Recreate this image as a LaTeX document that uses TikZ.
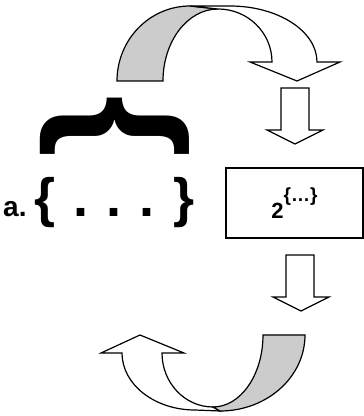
\documentclass[tikz,border=0pt]{standalone}
\usepackage{fontspec}
\setmainfont{Liberation Sans}
\definecolor{ribbongray}{HTML}{CCCCCC}
\begin{document}
\begin{tikzpicture}[x=1pt,y=1pt,
  outline/.style={draw=black, line width=1.2pt, line join=miter},
  ribbon/.style={outline, fill=ribbongray},
  paper/.style={outline, fill=white},
  boxed/.style={draw=black, line width=1.6pt, inner sep=0pt, minimum width=137pt, minimum height=70pt},
  bigtxt/.style={font=\bfseries\fontsize{54}{54}\selectfont, inner sep=0pt},
  smalltxt/.style={font=\bfseries\fontsize{28}{28}\selectfont, inner sep=0pt}]
\useasboundingbox (0,0) rectangle (364,416);

% top curved arrow
\path[ribbon] (117,335) -- (163,335)
  arc[start angle=180, end angle=90, x radius=55, y radius=72]
  -- (190,410)
  arc[start angle=90, end angle=180, x radius=73, y radius=75] -- cycle;
\path[paper] (218,407)
  arc[start angle=90, end angle=0, x radius=54, y radius=53]
  -- (250,354) -- (297,335) -- (340,354) -- (317,354)
  arc[start angle=0, end angle=90, x radius=87, y radius=56]
  -- (190,410) -- cycle;

% straight down arrows
\path[paper] (281,328) -- (309,328) -- (309,286) -- (323,286) -- (295,272) -- (267,286) -- (281,286) -- cycle;
\path[paper] (286,161) -- (314,161) -- (314,119) -- (329,119) -- (301,105) -- (273,119) -- (286,119) -- cycle;

% box
\node[boxed] (setbox) at (294.5,213) {\bfseries\fontsize{22}{22}\selectfont 2\raisebox{17pt}{\fontsize{19}{19}\selectfont\{…\}}};

% bottom curved arrow
\path[paper] (213,9)
  arc[start angle=-90, end angle=-180, x radius=51, y radius=54]
  -- (184,63) -- (140,81) -- (101,63) -- (122,63)
  arc[start angle=180, end angle=270, x radius=73, y radius=57]
  -- (220,5) -- cycle;
\path[ribbon] (263,81) -- (305,81)
  arc[start angle=0, end angle=-90, x radius=85, y radius=76]
  -- (213,9)
  arc[start angle=-90, end angle=0, x radius=50, y radius=72] -- cycle;

% left side texts
\node[font=\bfseries\fontsize{160}{160}\selectfont, rotate=-90, inner sep=0pt] (overbrace) at (115,289.5) {\{};
\node[smalltxt, anchor=base west] (label) at (3,199) {a.};
\node[bigtxt, anchor=base west] (setlist) at (34.5,199) {\{\hspace{18pt}.\hspace{18pt}.\hspace{18pt}.\hspace{19pt}\}};
\end{tikzpicture}
\end{document}
